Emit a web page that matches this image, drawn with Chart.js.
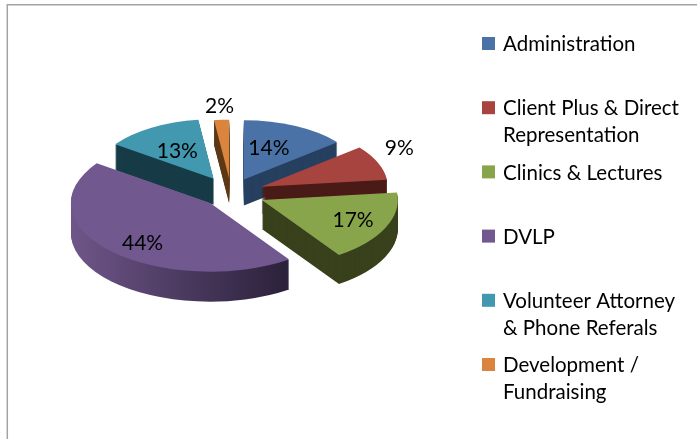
<!DOCTYPE html>
<html>
<head>
<meta charset="utf-8">
<script src="https://cdn.jsdelivr.net/npm/chart.js@4"></script>
<style>
  html, body { margin: 0; padding: 0; background: #fff; }
  canvas { display: block; }
</style>
</head>
<body>
<canvas id="canvas" width="697" height="439"></canvas>
<script>
const categories = ['Administration', 'Client Plus & Direct Representation', 'Clinics & Lectures', 'DVLP', 'Volunteer Attorney & Phone Referals', 'Development / Fundraising'];
const legendLines = [['Administration'], ['Client Plus & Direct', 'Representation'], ['Clinics & Lectures'], ['DVLP'], ['Volunteer Attorney', '& Phone Referals'], ['Development /', 'Fundraising']];
const values = [14, 9, 17, 44, 13, 2];
const topColors = ['#4a72a6', '#a8443f', '#89a54c', '#71588f', '#4198af', '#db843d'];
const sideColors = ['#274060', '#4a1b17', '#38411c', null, '#173c47', '#5e3a18'];

// pie look: how far each slice is pulled out, and the order to paint them in (back first)
const explode = [25, 26, 25, 21, 28, 25];
const paintOrder = [0, 4, 5, 1, 2, 3];
const labelNudge = [[-6, 1], [68, -24], [17, 4], [-8, 11], [1, 3], [-5, -37]];

const pieX = 231, pieY = 193, squashX = 1.31, squashY = 0.645, perspective = 0.09, depth = 28;

function placeSlice(ctx, arc, i, dy) {
  const mid = (arc.startAngle + arc.endAngle) / 2;
  const ux = Math.cos(mid), uy = Math.sin(mid);
  const s = 1 + perspective * uy;
  ctx.translate(pieX + s * squashX * explode[i] * ux, pieY + s * squashY * explode[i] * uy + dy);
  ctx.scale(s * squashX, s * squashY);
  ctx.translate(-arc.x, -arc.y);
}

const pie3d = {
  id: 'pie3d',
  beforeDatasetsDraw(chart) {
    const ctx = chart.ctx;
    const arcs = chart.getDatasetMeta(0).data;
    paintOrder.forEach(i => {
      const arc = arcs[i];
      const original = arc.options;
      const mid = (arc.startAngle + arc.endAngle) / 2;
      let side = sideColors[i];
      if (!side) {
        side = ctx.createLinearGradient(arc.x - 100, 0, arc.x + 60, 0);
        side.addColorStop(0, '#6f5689');
        side.addColorStop(0.5, '#4b3a60');
        side.addColorStop(1, '#2a2038');
      }
      arc.options = { ...original, backgroundColor: side };
      // nearer slices look a little thicker
      for (let dy = Math.round(depth * (1 + perspective * Math.sin(mid))); dy > 0; dy--) {
        ctx.save();
        placeSlice(ctx, arc, i, dy);
        arc.draw(ctx);
        ctx.restore();
      }
      arc.options = original;
      ctx.save();
      placeSlice(ctx, arc, i, 0);
      arc.draw(ctx);
      ctx.restore();
    });
    return false;
  },
  afterDraw(chart) {
    const ctx = chart.ctx;
    const arcs = chart.getDatasetMeta(0).data;
    ctx.save();
    // chart frame
    ctx.strokeStyle = '#a3a3a3';
    ctx.lineWidth = 1.5;
    ctx.beginPath();
    ctx.moveTo(697, 4.8);
    ctx.lineTo(7.3, 4.8);
    ctx.lineTo(7.3, 439);
    ctx.stroke();

    ctx.fillStyle = '#000';
    ctx.textBaseline = 'middle';
    // percentage labels
    ctx.font = '21px Lato, "Liberation Sans", sans-serif';
    ctx.textAlign = 'center';
    values.forEach((v, i) => {
      const arc = arcs[i];
      const mid = (arc.startAngle + arc.endAngle) / 2;
      const s = 1 + perspective * Math.sin(mid);
      const r = explode[i] + 60;
      const x = pieX + s * squashX * r * Math.cos(mid) + labelNudge[i][0];
      const y = pieY + s * squashY * r * Math.sin(mid) + labelNudge[i][1];
      ctx.fillText(v + '%', x, y);
    });
    // legend
    ctx.font = '20.5px Lato, "Liberation Sans", sans-serif';
    ctx.textAlign = 'left';
    legendLines.forEach((lines, i) => {
      const top = 37 + 64.2 * i;
      ctx.fillStyle = topColors[i];
      ctx.fillRect(482, top, 13, 13);
      ctx.fillStyle = '#000';
      lines.forEach((line, n) => ctx.fillText(line, 503, top + 7.5 + n * 26.7));
    });
    ctx.restore();
  }
};

new Chart(document.getElementById('canvas').getContext('2d'), {
  type: 'pie',
  data: {
    labels: categories,
    datasets: [{
      data: values,
      backgroundColor: topColors,
      borderWidth: 0
    }]
  },
  options: {
    responsive: false,
    animation: false,
    radius: 100,
    layout: { padding: 0 },
    plugins: { legend: { display: false }, tooltip: { enabled: false } }
  },
  plugins: [pie3d]
});
</script>
</body>
</html>
